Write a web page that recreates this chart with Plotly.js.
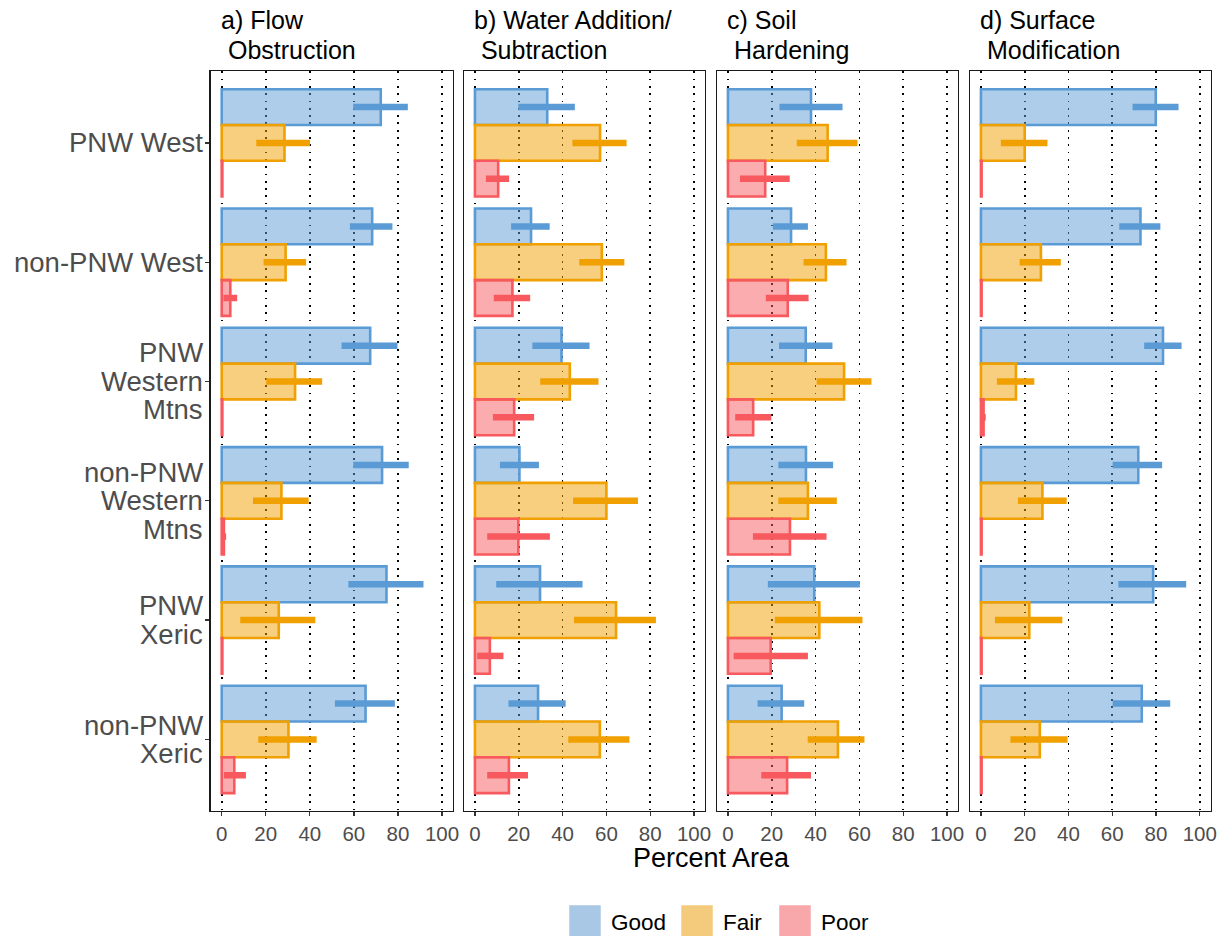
<!DOCTYPE html>
<html>
<head>
<meta charset="utf-8">
<script src="https://cdn.plot.ly/plotly-3.0.1.min.js"></script>
<style>
html,body{margin:0;padding:0;background:#fff;}
#chart{width:1221px;height:936px;}
</style>
</head>
<body>
<div id="chart"></div>
<script>
// ---- Data ----
const regions = ["PNW West", "non-PNW West", "PNW<br>Western<br>Mtns", "non-PNW<br>Western<br>Mtns", "PNW<br>Xeric", "non-PNW<br>Xeric"];
const panelTitles = ["a) Flow<br>&nbsp;Obstruction", "b) Water Addition/<br>&nbsp;Subtraction", "c) Soil<br>&nbsp;Hardening", "d) Surface<br>&nbsp;Modification"];
const conditions = ["Good", "Fair", "Poor"];
const xTicks = [0, 20, 40, 60, 80, 100];

// a) Flow Obstruction
const flowGood   = [72.2, 68.3, 67.4, 72.8, 74.8, 65.3];
const flowGoodLo = [59.7, 58.2, 54.4, 59.7, 57.5, 51.4];
const flowGoodHi = [84.5, 77.5, 79.8, 84.9, 91.6, 78.6];
const flowFair   = [28.5, 29.0, 33.3, 27.1, 25.9, 30.3];
const flowFairLo = [15.7, 19.0, 20.2, 14.2, 8.4, 16.6];
const flowFairHi = [40.1, 38.3, 45.6, 39.5, 42.5, 43.1];
const flowPoor   = [0.3, 3.9, 0.3, 1.0, 0.3, 5.7];
const flowPoorLo = [0.3, 0.8, 0.3, 0.3, 0.3, 1.0];
const flowPoorHi = [0.3, 7.0, 0.3, 2.0, 0.3, 11.0];

// b) Water Addition/Subtraction
const waterGood   = [33.0, 25.6, 39.5, 20.3, 29.7, 28.8];
const waterGoodLo = [19.8, 16.5, 26.2, 11.4, 9.7, 15.3];
const waterGoodHi = [45.6, 34.1, 52.3, 29.2, 49.1, 41.4];
const waterFair   = [57.1, 57.9, 43.3, 60.0, 64.4, 57.0];
const waterFairLo = [44.5, 47.6, 29.8, 44.8, 45.2, 42.6];
const waterFairHi = [69.2, 68.2, 56.4, 74.4, 82.6, 70.5];
const waterPoor   = [10.6, 17.1, 17.9, 19.8, 6.8, 15.5];
const waterPoorLo = [5.0, 8.6, 8.2, 5.6, 1.0, 5.6];
const waterPoorHi = [15.6, 25.2, 27.0, 34.2, 13.0, 24.2];

// c) Soil Hardening
const soilGood   = [37.9, 28.8, 35.5, 35.6, 39.4, 24.5];
const soilGoodLo = [23.5, 20.5, 23.3, 23.0, 18.2, 13.5];
const soilGoodHi = [52.3, 36.5, 47.7, 48.0, 60.2, 34.8];
const soilFair   = [45.5, 44.7, 53.0, 36.5, 41.7, 50.2];
const soilFairLo = [31.4, 34.5, 40.5, 23.0, 21.4, 36.4];
const soilFairHi = [59.1, 54.1, 65.5, 49.7, 61.4, 62.3];
const soilPoor   = [17.0, 27.3, 11.5, 28.3, 19.5, 27.0];
const soilPoorLo = [5.5, 17.3, 3.3, 11.4, 2.6, 15.2];
const soilPoorHi = [28.2, 36.8, 19.8, 45.0, 36.5, 37.9];

// d) Surface Modification
const surfGood   = [79.9, 72.9, 83.2, 71.9, 78.7, 73.5];
const surfGoodLo = [69.3, 63.2, 74.6, 60.2, 62.8, 60.2];
const surfGoodHi = [90.3, 82.0, 91.7, 82.8, 93.8, 86.5];
const surfFair   = [20.0, 27.4, 16.0, 28.1, 22.1, 26.9];
const surfFairLo = [9.1, 17.7, 7.3, 16.9, 6.4, 13.5];
const surfFairHi = [30.4, 36.5, 24.4, 39.2, 37.2, 39.6];
const surfPoor   = [0.3, 0.3, 1.2, 0.3, 0.3, 0.3];
const surfPoorLo = [0.3, 0.3, 0.3, 0.3, 0.3, 0.3];
const surfPoorHi = [0.3, 0.3, 2.2, 0.3, 0.3, 0.3];

// ---- Styles ----
const lineColors = {Good: "#5B9BD5", Fair: "#F0A000", Poor: "#F7595E"};
const fillColors = {Good: "rgba(91,155,213,0.5)", Fair: "rgba(240,160,0,0.5)", Poor: "rgba(247,89,94,0.5)"};
const keyColors  = {Good: "#A9C8E6", Fair: "#F4CB7C", Poor: "#F8A7AA"};
const FONT = "Liberation Sans, Arial, sans-serif";
const W = 1221, H = 936;

const panels = [
  {Good: [flowGood, flowGoodLo, flowGoodHi], Fair: [flowFair, flowFairLo, flowFairHi], Poor: [flowPoor, flowPoorLo, flowPoorHi]},
  {Good: [waterGood, waterGoodLo, waterGoodHi], Fair: [waterFair, waterFairLo, waterFairHi], Poor: [waterPoor, waterPoorLo, waterPoorHi]},
  {Good: [soilGood, soilGoodLo, soilGoodHi], Fair: [soilFair, soilFairLo, soilFairHi], Poor: [soilPoor, soilPoorLo, soilPoorHi]},
  {Good: [surfGood, surfGoodLo, surfGoodHi], Fair: [surfFair, surfFairLo, surfFairHi], Poor: [surfPoor, surfPoorLo, surfPoorHi]}
];

// panel pixel boxes
const pxLeft  = [210.7, 464, 717, 970];
const pxRight = [453, 705, 958, 1210.7];
const pxTop = 71.3, pxBottom = 811;

const traces = [];
panels.forEach((p, i) => {
  const sfx = i === 0 ? "" : String(i + 1);
  conditions.forEach(c => {
    const [v, lo, hi] = p[c];
    traces.push({
      type: "bar", orientation: "h",
      y: regions, x: v,
      xaxis: "x" + sfx, yaxis: "y" + sfx,
      name: c, showlegend: false,
      marker: {color: fillColors[c], line: {color: lineColors[c], width: 2.6}},
      error_x: {
        type: "data", symmetric: false,
        array: v.map((val, k) => hi[k] - val),
        arrayminus: v.map((val, k) => val - lo[k]),
        color: lineColors[c], thickness: 6.5, width: 0
      },
      hoverinfo: "x+y+name"
    });
  });
});

const layout = {
  width: W, height: H,
  margin: {l: 0, r: 0, t: 0, b: 0},
  paper_bgcolor: "#fff", plot_bgcolor: "#fff",
  barmode: "group", bargap: 0.1, bargroupgap: 0,
  showlegend: false,
  font: {family: FONT, size: 17, color: "#4D4D4D"},
  annotations: [], shapes: []
};

const yDomain = [1 - pxBottom / H, 1 - pxTop / H];
const titleLineY = [20, 50];
for (let i = 0; i < 4; i++) {
  const sfx = i === 0 ? "" : String(i + 1);
  layout["xaxis" + sfx] = {
    domain: [pxLeft[i] / W, pxRight[i] / W],
    anchor: "y" + sfx,
    range: [-5, 105],
    tickvals: xTicks, ticktext: xTicks.map(String),
    ticks: "outside", ticklen: 4, tickwidth: 1.3, tickcolor: "#333",
    tickfont: {family: FONT, size: 20.5, color: "#4D4D4D"},
    showgrid: true, gridcolor: "#000", gridwidth: 1.8, griddash: "1.8px,5.5px",
    zeroline: false,
    showline: true, mirror: true, linecolor: "#1a1a1a", linewidth: 1.4,
    fixedrange: true
  };
  layout["yaxis" + sfx] = {
    domain: yDomain,
    anchor: "x" + sfx,
    type: "category",
    categoryorder: "array", categoryarray: regions,
    range: [5.6, -0.6],
    showticklabels: false,
    ticks: i === 0 ? "outside" : "",
    ticklen: 4, tickwidth: 1.3, tickcolor: "#333",
    showgrid: false, zeroline: false,
    showline: true, mirror: true, linecolor: "#1a1a1a", linewidth: 1.4,
    fixedrange: true
  };
  panelTitles[i].split("<br>").forEach((ln, j) => {
    layout.annotations.push({
      xref: "paper", yref: "paper",
      x: (pxLeft[i] + 8) / W, y: 1 - titleLineY[j] / H,
      xanchor: "left", yanchor: "middle", align: "left",
      text: ln, showarrow: false,
      font: {family: FONT, size: 25, color: "#000"}
    });
  });
}

// y-axis category labels (one text line per annotation, tight line spacing)
const lineGap = 28.5;
regions.forEach((r, k) => {
  const lines = r.split("<br>");
  lines.forEach((ln, j) => {
    layout.annotations.push({
      xref: "paper", yref: "y",
      x: 204.5 / W, y: k,
      xanchor: "right", yanchor: "middle", align: "right",
      yshift: ((lines.length - 1) / 2 - j) * lineGap,
      text: ln, showarrow: false,
      font: {family: FONT, size: 27.5, color: "#4D4D4D"}
    });
  });
});

// x-axis title
layout.annotations.push({
  xref: "paper", yref: "paper",
  x: 711 / W, y: 1 - 858 / H,
  xanchor: "center", yanchor: "middle",
  text: "Percent Area", showarrow: false,
  font: {family: FONT, size: 27, color: "#000"}
});

// legend (keys + labels)
const keyX = [570, 682, 780];
conditions.forEach((c, k) => {
  layout.shapes.push({
    type: "rect", xref: "paper", yref: "paper",
    x0: keyX[k] / W, x1: (keyX[k] + 30) / W,
    y0: 1 - 936 / H, y1: 1 - 906 / H,
    fillcolor: keyColors[c], line: {color: keyColors[c], width: 1.5}, layer: "above"
  });
  layout.annotations.push({
    xref: "paper", yref: "paper",
    x: (keyX[k] + 39) / W, y: 1 - 922 / H,
    xanchor: "left", yanchor: "middle",
    text: c, showarrow: false,
    font: {family: FONT, size: 22.5, color: "#000"}
  });
});

Plotly.newPlot("chart", traces, layout, {displayModeBar: false, staticPlot: true});
</script>
</body>
</html>
